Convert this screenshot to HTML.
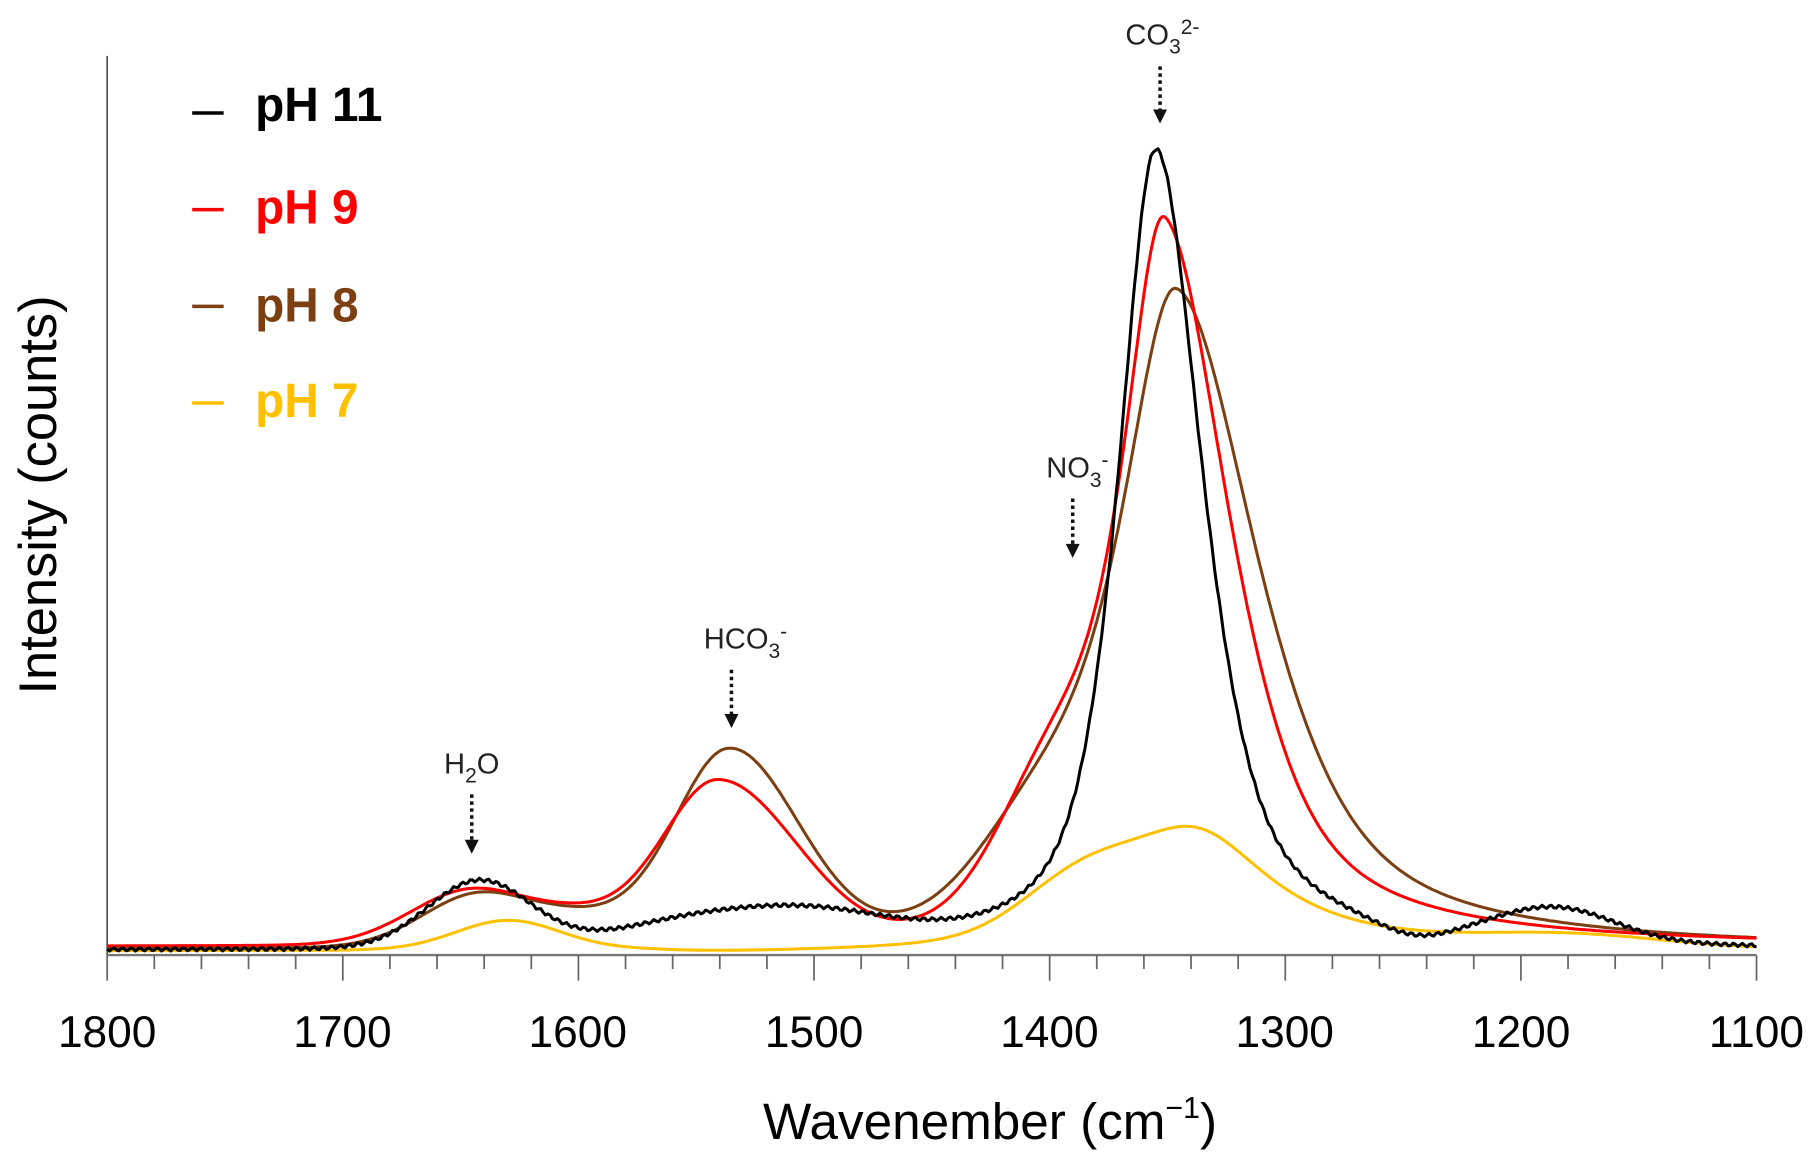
<!DOCTYPE html>
<html><head><meta charset="utf-8"><style>
html,body{margin:0;padding:0;background:#fff;}
svg{display:block;font-family:"Liberation Sans",sans-serif;}
</style></head><body>
<svg id="s" width="1817" height="1154" viewBox="0 0 1560 990.8" xmlns="http://www.w3.org/2000/svg">
<rect width="1560" height="991" fill="#fff"/>
<line x1="92" y1="48" x2="92" y2="820" stroke="#555" stroke-width="1.5"/>
<line x1="92" y1="820" x2="1508" y2="820" stroke="#777" stroke-width="2"/>
<g id="ticks" stroke="#666" stroke-width="1.5"></g>
<g font-size="38" text-anchor="middle" fill="#000">
<text x="92" y="899">1800</text><text x="294" y="899">1700</text><text x="496" y="899">1600</text><text x="699" y="899">1500</text><text x="901" y="899">1400</text><text x="1103" y="899">1300</text><text x="1306" y="899">1200</text><text x="1508" y="899">1100</text>
</g>
<text x="850" y="978" font-size="44" text-anchor="middle">Wavenember (cm<tspan font-size="26" dy="-18">−1</tspan><tspan dy="18">)</tspan></text>
<text transform="translate(48,425) rotate(-90)" font-size="45" text-anchor="middle">Intensity (counts)</text>
<g id="curves" fill="none" stroke-width="2.6" stroke-linejoin="round"></g>
<g font-size="41" font-weight="bold">
<line x1="165" y1="97" x2="192" y2="97" stroke="#000" stroke-width="3"/><text x="219" y="104" fill="#000">pH 11</text>
<line x1="165" y1="180" x2="192" y2="180" stroke="#f00" stroke-width="3"/><text x="219" y="192" fill="#f00">pH 9</text>
<line x1="165" y1="263" x2="192" y2="263" stroke="#7b3f12" stroke-width="3"/><text x="219" y="276" fill="#7b3f12">pH 8</text>
<line x1="165" y1="346" x2="192" y2="346" stroke="#ffc000" stroke-width="3"/><text x="219" y="358" fill="#ffc000">pH 7</text>
</g>
<g font-size="25" fill="#222" text-anchor="middle">
<text x="998" y="38">CO<tspan font-size="18" dy="8">3</tspan><tspan font-size="18" dy="-17">2-</tspan></text>
<text x="925" y="410">NO<tspan font-size="18" dy="8">3</tspan><tspan font-size="18" dy="-17">-</tspan></text>
<text x="640" y="557">HCO<tspan font-size="18" dy="8">3</tspan><tspan font-size="18" dy="-17">-</tspan></text>
<text x="405" y="664">H<tspan font-size="18" dy="8">2</tspan><tspan dy="-8">O</tspan></text>
</g>
<g stroke="#111" stroke-width="3" stroke-dasharray="3,3" fill="#111">
<line x1="996" y1="57" x2="996" y2="95"/><polygon points="990,94 1002,94 996,106" stroke="none"/>
<line x1="921" y1="428" x2="921" y2="468"/><polygon points="915,467 927,467 921,479" stroke="none"/>
<line x1="628" y1="575" x2="628" y2="614"/><polygon points="622,613 634,613 628,625" stroke="none"/>
<line x1="405" y1="682" x2="405" y2="722"/><polygon points="399,721 411,721 405,733" stroke="none"/>
</g>
</svg>
<script>
var X=function(w){return 92+(1800-w)*2.023;};
var t=document.getElementById('ticks'),h='';
for(var w=1800;w>=1100;w-=20){var x=X(w);h+='<line x1="'+x+'" y1="820" x2="'+x+'" y2="'+(w%100==0?842:832)+'"/>';}
t.innerHTML=h;
function L(w,c,a,g){return a/(1+Math.pow((w-c)/g,2));}
function G(w,c,a,s){return a*Math.exp(-Math.pow((w-c)/s,2)/2);}
function A(w,c,a,sl,sr){return G(w,c,a,w>c?sl:sr);}
function V(w,c,a,gl,gr){var d=(w-c)/(w>c?gl:gr);return a*(0.7/(1+d*d)+0.3*Math.exp(-0.693*d*d));}
function sg(x){return 1/(1+Math.exp(-x));}
function BG(w){return 26*sg((1615-w)/10)*sg((w-1490)/12);}
var S=[
{c:'#ffc000',f:function(w){return 3*sg((w-1560)/10)+3*sg((1420-w)/10)+G(w,1630,25,22)+L(w,1337,100,40)+G(w,1385,40,25)+G(w,1180,10,40);}},
{c:'#7b3f12',f:function(w){return 4+G(w,1642,45,24)+BG(w)+A(w,1536,140,22,27)+V(w,1346,555,28,42)+G(w,1400,85,28);}},
{c:'#f00',f:function(w){return 7+G(w,1645,47,26)+BG(w)+A(w,1541,113,22,30)+V(w,1351,600,21,34)+G(w,1395,125,25);}},
{c:'#000',f:function(w){return 4+G(w,1642,58,22)+G(w,1505,28,35)+G(w,1560,16,30)+V(w,1355,688,19,24)+G(w,1185,28,25)-G(w,1245,10,15)+Math.sin(w*1.7)*1.5;}}
];
var g=document.getElementById('curves'),o='';
S.forEach(function(s){var d='';for(var w=1800;w>=1100;w-=1){var y=820-s.f(w);if(y>821)y=821;d+=(w==1800?'M':'L')+X(w).toFixed(1)+','+y.toFixed(1);}o+='<path d="'+d+'" stroke="'+s.c+'"/>';});
g.innerHTML=o;
</script>
</body></html>
